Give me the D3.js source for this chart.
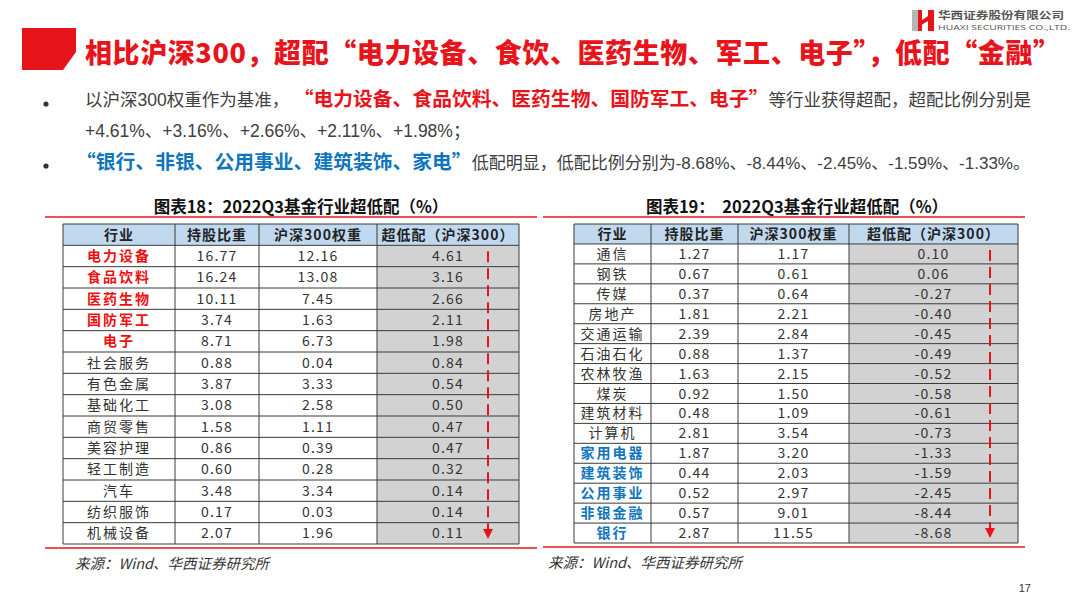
<!DOCTYPE html>
<html>
<head>
<meta charset="utf-8">
<script src="https://cdn.jsdelivr.net/npm/d3@7"></script>
<style>
  body { margin: 0; background: #fff; }
  svg { display: block; }
</style>
</head>
<body>
<div id="slide"></div>
<script>
// table data
const columnHeaders = ["行业", "持股比重", "沪深300权重", "超低配（沪深300）"];

const leftIndustries = ["电力设备", "食品饮料", "医药生物", "国防军工", "电子", "社会服务", "有色金属",
  "基础化工", "商贸零售", "美容护理", "轻工制造", "汽车", "纺织服饰", "机械设备"];
const leftHolding = [16.77, 16.24, 10.11, 3.74, 8.71, 0.88, 3.87, 3.08, 1.58, 0.86, 0.60, 3.48, 0.17, 2.07];
const leftHs300 = [12.16, 13.08, 7.45, 1.63, 6.73, 0.04, 3.33, 2.58, 1.11, 0.39, 0.28, 3.34, 0.03, 1.96];
const leftDiff = [4.61, 3.16, 2.66, 2.11, 1.98, 0.84, 0.54, 0.50, 0.47, 0.47, 0.32, 0.14, 0.14, 0.11];

const rightIndustries = ["通信", "钢铁", "传媒", "房地产", "交通运输", "石油石化", "农林牧渔", "煤炭",
  "建筑材料", "计算机", "家用电器", "建筑装饰", "公用事业", "非银金融", "银行"];
const rightHolding = [1.27, 0.67, 0.37, 1.81, 2.39, 0.88, 1.63, 0.92, 0.48, 2.81, 1.87, 0.44, 0.52, 0.57, 2.87];
const rightHs300 = [1.17, 0.61, 0.64, 2.21, 2.84, 1.37, 2.15, 1.50, 1.09, 3.54, 3.20, 2.03, 2.97, 9.01, 11.55];
const rightDiff = [0.10, 0.06, -0.27, -0.40, -0.45, -0.49, -0.52, -0.58, -0.61, -0.73, -1.33, -1.59, -2.45, -8.44, -8.68];

const overweightNames = ["电力设备", "食品饮料", "医药生物", "国防军工", "电子"];
const underweightNames = ["家用电器", "建筑装饰", "公用事业", "非银金融", "银行"];

const W = 1080, H = 605;
const RED = "#e8141b", BLUE = "#0f75bd", TXT = "#404040";
const CJK = "'Noto Sans CJK SC', sans-serif";
const BODY = "'Liberation Sans', 'Noto Sans CJK SC', sans-serif";

let svg = d3.select("#slide").append("svg")
  .attr("width", W).attr("height", H)
  .attr("viewBox", [0, 0, W, H].join(" "));

svg.append("defs").append("marker")
  .attr("id", "arrowHead")
  .attr("viewBox", "0 0 10 10")
  .attr("refX", 10).attr("refY", 5)
  .attr("markerWidth", 10).attr("markerHeight", 11)
  .attr("markerUnits", "userSpaceOnUse")
  .attr("orient", "auto")
  .append("path")
    .attr("d", "M0,0 L10,5 L0,10 Z")
    .attr("fill", RED);

// header block + title
svg.append("path")
  .attr("d", "M22,28 L76,28 L76,52 L63,70 L22,70 Z")
  .attr("fill", RED);

svg.append("text")
  .attr("x", 85).attr("y", 63)
  .attr("textLength", 975).attr("lengthAdjust", "spacing")
  .style("font-family", CJK).style("font-weight", 900).style("font-size", "27px")
  .attr("fill", RED)
  .text("相比沪深300，超配“电力设备、食饮、医药生物、军工、电子”，低配“金融”");

// logo
let logo = svg.append("g");
logo.append("rect").attr("x", 912).attr("y", 10).attr("width", 6).attr("height", 21).attr("fill", "#b5b5b5");
logo.append("rect").attr("x", 918).attr("y", 10).attr("width", 4).attr("height", 21).attr("fill", RED);
logo.append("path").attr("d", "M918,23 L928,16 L928,10 L934,10 L934,31 L928,31 L928,21 L918,27 Z").attr("fill", RED);
logo.append("text").attr("x", 938).attr("y", 18.5)
  .attr("textLength", 126).attr("lengthAdjust", "spacingAndGlyphs")
  .style("font-family", CJK).style("font-weight", 700).style("font-size", "10px").attr("fill", "#555")
  .text("华西证券股份有限公司");
logo.append("text").attr("x", 938).attr("y", 30)
  .attr("textLength", 132).attr("lengthAdjust", "spacingAndGlyphs")
  .style("font-family", "'Open Sans', sans-serif").style("font-size", "7.5px").attr("fill", "#555")
  .text("HUAXI SECURITIES CO.,LTD.");

// bullets
[104, 166].forEach(function(y) {
  svg.append("circle").attr("cx", 46).attr("cy", y).attr("r", 2.6).attr("fill", "#333");
});

function bulletLine(x, y, parts) {
  let t = svg.append("text").attr("x", x).attr("y", y)
    .style("font-family", BODY).style("font-size", "17.5px");
  parts.forEach(function(p) {
    t.append("tspan")
      .attr("fill", p.color || TXT)
      .style("font-weight", p.bold ? 700 : 400)
      .style("font-family", p.bold ? CJK : BODY)
      .style("font-size", p.bold ? "19.8px" : (p.size || "17.5px"))
      .text(p.text);
  });
}
bulletLine(85, 106, [
  {text: "以沪深300权重作为基准，"},
  {text: " “电力设备、食品饮料、医药生物、国防军工、电子”", bold: true, color: RED},
  {text: "等行业获得超配，超配比例分别是"}
]);
bulletLine(85, 137, [
  {text: "+4.61%、+3.16%、+2.66%、+2.11%、+1.98%；"}
]);
bulletLine(76, 169, [
  {text: "“银行、非银、公用事业、建筑装饰、家电”", bold: true, color: BLUE},
  {text: "低配明显，低配比例分别为-8.68%、-8.44%、-2.45%、-1.59%、-1.33%。", size: "17px"}
]);

// tables
function drawTable(opt) {
  let g = svg.append("g");
  let rows = opt.names.map(function(n, i) {
    return [n, opt.holding[i], opt.hs300[i], opt.diff[i]];
  });

  let y = d3.scaleBand()
    .domain(d3.range(rows.length + 1))
    .range([opt.top, opt.bottom]);
  let colIdx = d3.range(4);
  let colX = function(i) { return opt.edges[i]; };
  let colW = function(i) { return opt.edges[i + 1] - opt.edges[i]; };

  // title + red rules
  g.append("text")
    .attr("x", opt.titleX).attr("y", opt.top - 11)
    .attr("text-anchor", "middle")
    .style("font-family", CJK).style("font-weight", 700).style("font-size", "16.5px")
    .attr("fill", "#111")
    .attr("xml:space", "preserve")
    .text(opt.title);
  g.append("line")
    .attr("x1", opt.ruleX[0]).attr("x2", opt.ruleX[1])
    .attr("y1", opt.top - 7).attr("y2", opt.top - 7)
    .attr("stroke", RED).attr("stroke-width", 1.3);
  g.append("line")
    .attr("x1", opt.ruleX[0]).attr("x2", opt.ruleX[1])
    .attr("y1", opt.bottom + 4).attr("y2", opt.bottom + 4)
    .attr("stroke", RED).attr("stroke-width", 1.3);

  // header cells
  g.selectAll(".hcell").data(colIdx).enter().append("rect")
    .attr("x", colX).attr("y", y(0))
    .attr("width", colW).attr("height", y.bandwidth())
    .attr("fill", "#c0d9ef");
  g.selectAll(".htext").data(columnHeaders).enter().append("text")
    .attr("x", function(d, i) { return colX(i) + colW(i) / 2; })
    .attr("y", y(0) + y.bandwidth() / 2)
    .attr("dy", "0.36em")
    .attr("text-anchor", "middle")
    .style("font-family", CJK).style("font-weight", 700).style("font-size", "14px")
    .style("letter-spacing", "1px")
    .attr("fill", "#222")
    .text(function(d) { return d; });

  // body cells
  let rowG = g.selectAll(".row").data(rows).enter().append("g")
    .attr("transform", function(d, i) { return "translate(0," + y(i + 1) + ")"; });

  rowG.selectAll("rect").data(function(d) { return d; }).enter().append("rect")
    .attr("x", function(d, i) { return colX(i); })
    .attr("width", function(d, i) { return colW(i); })
    .attr("height", y.bandwidth())
    .attr("fill", function(d, i) { return i === 3 ? "#d2d2d2" : "#fff"; });

  rowG.selectAll("text").data(function(d) { return d; }).enter().append("text")
    .attr("x", function(d, i) { return colX(i) + colW(i) / 2; })
    .attr("y", y.bandwidth() / 2)
    .attr("dy", "0.36em")
    .attr("text-anchor", "middle")
    .style("font-family", CJK)
    .style("font-size", "14px")
    .style("letter-spacing", function(d, i) { return i === 0 ? "2px" : "1.2px"; })
    .style("font-weight", function(d, i) {
      return i === 0 && (overweightNames.includes(d) || underweightNames.includes(d)) ? 700 : 400;
    })
    .attr("fill", function(d, i) {
      if (i === 0 && overweightNames.includes(d)) return "#f01010";
      if (i === 0 && underweightNames.includes(d)) return BLUE;
      return "#333";
    })
    .text(function(d, i) { return i === 0 ? d : d.toFixed(2); });

  // grid lines
  g.selectAll(".hline").data(d3.range(rows.length + 2)).enter().append("line")
    .attr("x1", opt.edges[0]).attr("x2", opt.edges[4])
    .attr("y1", function(i) { return i <= rows.length ? y(i) : opt.bottom; })
    .attr("y2", function(i) { return i <= rows.length ? y(i) : opt.bottom; })
    .attr("stroke", "#3a3a3a").attr("stroke-width", 1);
  g.selectAll(".vline").data(opt.edges).enter().append("line")
    .attr("x1", function(d) { return d; }).attr("x2", function(d) { return d; })
    .attr("y1", opt.top).attr("y2", opt.bottom)
    .attr("stroke", "#3a3a3a").attr("stroke-width", 1);

  // dashed arrow down the last column
  g.append("line")
    .attr("x1", opt.arrowX).attr("x2", opt.arrowX)
    .attr("y1", y(1) + 6).attr("y2", opt.bottom - 5)
    .attr("stroke", RED).attr("stroke-width", 2)
    .attr("stroke-dasharray", "11,6")
    .attr("marker-end", "url(#arrowHead)");

  // source
  g.append("text")
    .attr("x", opt.sourceX).attr("y", opt.bottom + 25)
    .style("font-family", CJK).style("font-style", "italic").style("font-size", "14.5px")
    .attr("fill", "#333")
    .text("来源：Wind、华西证券研究所");
}

drawTable({
  names: leftIndustries, holding: leftHolding, hs300: leftHs300, diff: leftDiff,
  edges: [63, 175, 259, 377, 519], top: 224, bottom: 544,
  title: "图表18：2022Q3基金行业超低配（%）", titleX: 301,
  ruleX: [45, 537], arrowX: 488, sourceX: 75
});
drawTable({
  names: rightIndustries, holding: rightHolding, hs300: rightHs300, diff: rightDiff,
  edges: [574, 651, 738, 849, 1018], top: 224, bottom: 543,
  title: "图表19：  2022Q3基金行业超低配（%）", titleX: 797,
  ruleX: [543, 1025], arrowX: 990, sourceX: 548
});

// page number
svg.append("text")
  .attr("x", 1031).attr("y", 592)
  .attr("text-anchor", "end")
  .style("font-family", BODY).style("font-size", "11px")
  .attr("fill", "#333")
  .text("17");
</script>
</body>
</html>
